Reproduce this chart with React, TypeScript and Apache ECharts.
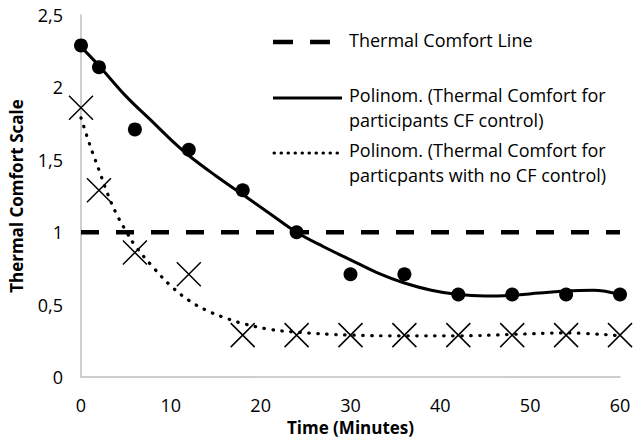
import React, { useEffect, useRef } from "react";
import * as echarts from "echarts";

const timePoints = [0, 2, 6, 12, 18, 24, 30, 36, 42, 48, 54, 60];
const cfControl = [2.29, 2.14, 1.71, 1.57, 1.29, 1.0, 0.71, 0.71, 0.57, 0.57, 0.57, 0.57];
const noCfControl = [1.86, 1.29, 0.86, 0.71, 0.29, 0.29, 0.29, 0.29, 0.29, 0.29, 0.29, 0.29];

const trendCfX = [0, 2, 5, 8, 10, 12, 15, 18, 21, 24, 27, 30, 33, 36, 39, 42, 45, 48, 51, 54, 57, 60];
const trendCfY = [2.28, 2.15, 1.94, 1.76, 1.64, 1.53, 1.39, 1.26, 1.13, 1.0, 0.9, 0.81, 0.72, 0.65, 0.6, 0.57, 0.56, 0.565, 0.58, 0.595, 0.6, 0.57];

const trendNoCfX = [0, 1, 2, 3, 4, 5, 6, 8, 10, 12, 14, 16, 18, 21, 24, 30, 36, 42, 48, 54, 60];
const trendNoCfY = [1.79, 1.6, 1.43, 1.26, 1.12, 1.01, 0.91, 0.76, 0.63, 0.53, 0.46, 0.41, 0.37, 0.33, 0.31, 0.29, 0.285, 0.285, 0.295, 0.305, 0.285];

const comfortLineX = [0, 60];
const comfortLineY = [1, 1];

const legendLabels = [
  ["Thermal Comfort Line"],
  ["Polinom. (Thermal Comfort for", "participants CF control)"],
  ["Polinom. (Thermal Comfort for", "particpants with no CF control)"],
];

const FONT = "'Open Sans', sans-serif";

export default function App() {
  const ref = useRef<HTMLDivElement>(null);
  useEffect(() => {
    if (!ref.current) return;
    const chart = echarts.init(ref.current, null, { renderer: "svg" });
    const zip = (xs: number[], ys: number[]) => xs.map((x, i) => [x, ys[i]]);
    const textStyle = { fill: "#000", font: `18px ${FONT}`, textVerticalAlign: "middle" as const };
    chart.setOption({
      animation: false,
      backgroundColor: "#fff",
      textStyle: { fontFamily: FONT },
      grid: { left: 80, right: 14, top: 15, bottom: 63, containLabel: false },
      xAxis: {
        type: "value",
        min: 0,
        max: 60,
        interval: 10,
        name: "Time (Minutes)",
        nameLocation: "middle",
        nameGap: 40,
        nameTextStyle: { fontFamily: FONT, fontSize: 17, fontWeight: "bold", color: "#000" },
        axisLine: { show: true, lineStyle: { color: "#bfbfbf", width: 1.5 } },
        axisTick: { show: false },
        splitLine: { show: false },
        axisLabel: { fontFamily: FONT, fontSize: 18, color: "#000", margin: 19 },
      },
      yAxis: {
        type: "value",
        min: 0,
        max: 2.5,
        interval: 0.5,
        name: "Thermal Comfort Scale",
        nameLocation: "middle",
        nameGap: 56,
        nameTextStyle: { fontFamily: FONT, fontSize: 17, fontWeight: "bold", color: "#000" },
        axisLine: { show: true, lineStyle: { color: "#bfbfbf", width: 1.5 } },
        axisTick: { show: false },
        splitLine: { show: false },
        axisLabel: {
          fontFamily: FONT,
          fontSize: 18,
          color: "#000",
          margin: 18,
          formatter: (v: number) => String(v).replace(".", ","),
        },
      },
      series: [
        {
          name: "Thermal Comfort Line",
          type: "line",
          data: zip(comfortLineX, comfortLineY),
          symbol: "none",
          lineStyle: { color: "#000", width: 4.5, type: [18, 17] },
          z: 2,
        },
        {
          name: "Polinom. CF control",
          type: "line",
          data: zip(trendCfX, trendCfY),
          symbol: "none",
          smooth: 0.4,
          lineStyle: { color: "#000", width: 3 },
          z: 2,
        },
        {
          name: "Polinom. no CF control",
          type: "line",
          data: zip(trendNoCfX, trendNoCfY),
          symbol: "none",
          smooth: 0.4,
          lineStyle: { color: "#000", width: 3.2, type: [0.5, 8.5], cap: "round" },
          z: 2,
        },
        {
          name: "Thermal Comfort for participants CF control",
          type: "scatter",
          data: zip(timePoints, cfControl),
          symbol: "circle",
          symbolSize: 14,
          itemStyle: { color: "#000", opacity: 1 },
          z: 3,
        },
        {
          name: "Thermal Comfort for particpants with no CF control",
          type: "scatter",
          data: zip(timePoints, noCfControl),
          symbol: "path://M0,0L20,20M20,0L0,20",
          symbolSize: 24,
          itemStyle: { color: "rgba(0,0,0,0)", borderColor: "#000", borderWidth: 1.5, opacity: 1 },
          z: 3,
        },
      ],
      graphic: [
        {
          type: "line",
          shape: { x1: 273, y1: 42, x2: 331, y2: 42 },
          style: { stroke: "#000", lineWidth: 4.5, lineDash: [20, 17] },
        },
        {
          type: "line",
          shape: { x1: 273, y1: 98, x2: 342, y2: 98 },
          style: { stroke: "#000", lineWidth: 3 },
        },
        {
          type: "line",
          shape: { x1: 274, y1: 153, x2: 340, y2: 153 },
          style: { stroke: "#000", lineWidth: 3, lineDash: [0.5, 6.5], lineCap: "round" },
        },
        { type: "text", left: 349, top: 31, style: { ...textStyle, text: legendLabels[0][0] } },
        { type: "text", left: 349, top: 86, style: { ...textStyle, text: legendLabels[1][0] } },
        { type: "text", left: 349, top: 111, style: { ...textStyle, text: legendLabels[1][1] } },
        { type: "text", left: 349, top: 141, style: { ...textStyle, text: legendLabels[2][0] } },
        { type: "text", left: 349, top: 166, style: { ...textStyle, text: legendLabels[2][1] } },
      ],
    });
    return () => chart.dispose();
  }, []);
  return <div ref={ref} style={{ width: 634, height: 441, position: "absolute", left: 0, top: 0 }} />;
}
